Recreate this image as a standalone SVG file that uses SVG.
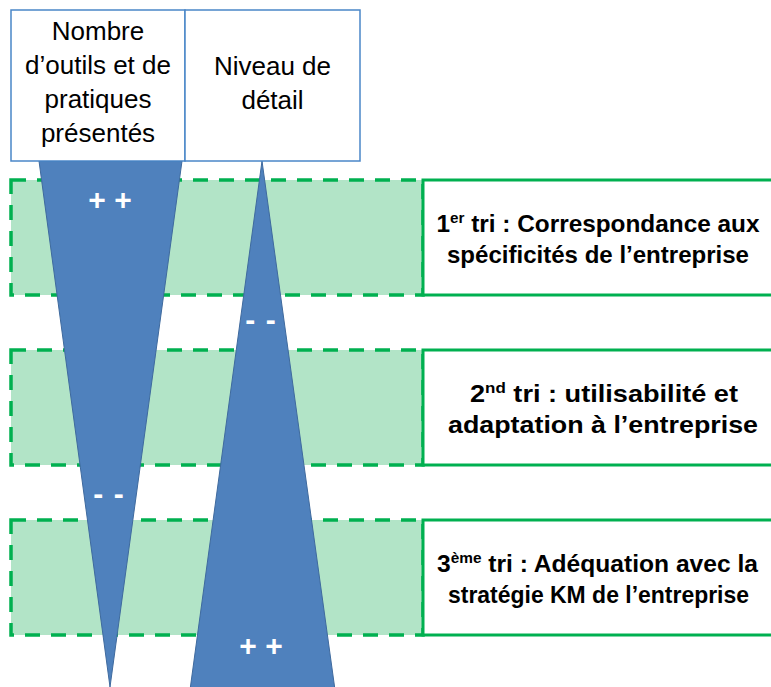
<svg xmlns="http://www.w3.org/2000/svg" width="771" height="687" viewBox="0 0 771 687">
<style>
.band{fill:#B2E4C7;stroke:#00B050;stroke-width:3.5;stroke-dasharray:15 11}
.crit{fill:#FFFFFF;stroke:#00B050;stroke-width:3}
.tri{fill:#4F81BD;stroke:#3F6A9E;stroke-width:1}
.hdr{fill:#FFFFFF;stroke:#4A86C8;stroke-width:1.5}
.ht{font-family:"Liberation Sans",Arial,sans-serif;font-size:26px;fill:#000;text-anchor:middle}
.ct{font-family:"Liberation Sans",Arial,sans-serif;font-size:24px;font-weight:bold;fill:#000;text-anchor:middle}
.sym{font-family:"Liberation Sans",Arial,sans-serif;font-size:30px;font-weight:bold;fill:#FFFFFF;text-anchor:middle}
</style>
<rect width="771" height="687" fill="#FFFFFF"/>
<g id="band1">
<rect class="band" x="11" y="180" width="412" height="115"/>
</g>
<g id="band2">
<rect class="band" x="11" y="350" width="412" height="115"/>
</g>
<g id="band3">
<rect class="band" x="11" y="520" width="412" height="115"/>
</g>
<g id="tri-outils">
<polygon class="tri" points="39,161 182,161 110,687"/>
<text class="sym" x="110" y="209.5">+ +</text>
<text class="sym" x="109" y="504" letter-spacing="1">- -</text>
</g>
<g id="tri-detail">
<polygon class="tri" points="262,161 335,690 190,690"/>
<text class="sym" x="261" y="330" letter-spacing="1">- -</text>
<text class="sym" x="261" y="655.5">+ +</text>
</g>
<g id="hdr-outils">
<rect class="hdr" x="11" y="10" width="174" height="151"/>
<text class="ht" x="98" y="40">Nombre</text>
<text class="ht" x="98" y="74">d’outils et de</text>
<text class="ht" x="98" y="108">pratiques</text>
<text class="ht" x="98" y="142">présentés</text>
</g>
<g id="hdr-detail">
<rect class="hdr" x="185" y="10" width="175" height="151"/>
<text class="ht" x="272.5" y="75">Niveau de</text>
<text class="ht" x="272.5" y="109">détail</text>
</g>
<g id="crit1">
<rect class="crit" x="423" y="180" width="352" height="115"/>
<text class="ct" x="598" y="232" textLength="323" lengthAdjust="spacingAndGlyphs">1<tspan font-size="15" dy="-9">er</tspan><tspan dy="9"> tri : Correspondance aux</tspan></text>
<text class="ct" x="598" y="263" textLength="302" lengthAdjust="spacingAndGlyphs">spécificités de l’entreprise</text>
</g>
<g id="crit2">
<rect class="crit" x="423" y="350" width="352" height="115"/>
<text class="ct" x="604" y="402" textLength="268" lengthAdjust="spacingAndGlyphs">2<tspan font-size="15" dy="-9">nd</tspan><tspan dy="9"> tri : utilisabilité et</tspan></text>
<text class="ct" x="603" y="433" textLength="310" lengthAdjust="spacingAndGlyphs">adaptation à l’entreprise</text>
</g>
<g id="crit3">
<rect class="crit" x="423" y="520" width="352" height="115"/>
<text class="ct" x="597.5" y="572" textLength="321" lengthAdjust="spacingAndGlyphs">3<tspan font-size="15" dy="-9">ème</tspan><tspan dy="9"> tri : Adéquation avec la</tspan></text>
<text class="ct" x="598.5" y="603" textLength="301" lengthAdjust="spacingAndGlyphs">stratégie KM de l’entreprise</text>
</g>
</svg>
